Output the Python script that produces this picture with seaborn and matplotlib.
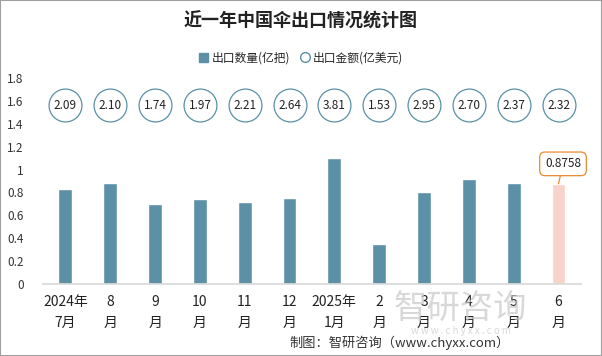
import matplotlib
matplotlib.use("Agg")
import matplotlib.pyplot as plt
import seaborn as sns
import pandas as pd
from matplotlib.patches import Patch, Rectangle
from matplotlib.lines import Line2D

months = ["2024年\n7月", "8\n月", "9\n月", "10\n月", "11\n月", "12\n月",
          "2025年\n1月", "2\n月", "3\n月", "4\n月", "5\n月", "6\n月"]
qty = [0.83, 0.88, 0.70, 0.74, 0.72, 0.75, 1.10, 0.35, 0.80, 0.92, 0.88, 0.8758]
amount = [2.09, 2.10, 1.74, 1.97, 2.21, 2.64, 3.81, 1.53, 2.95, 2.70, 2.37, 2.32]
yticks = [0, 0.2, 0.4, 0.6, 0.8, 1, 1.2, 1.4, 1.6, 1.8]

sns.set_theme(style="white")
plt.rcParams['font.family'] = ['Noto Sans CJK SC', 'DejaVu Sans']

BAR = "#5b90a7"
HILITE = "#f8d3ca"
ORANGE = "#ea8a2e"

df = pd.DataFrame({"month": months, "qty": qty})
colors = [BAR] * (len(months) - 1) + [HILITE]

fig = plt.figure(figsize=(6.02, 3.56), dpi=100)
ax = fig.add_axes([0.0714, 0.202, 0.8936, 0.579])

sns.barplot(data=df, x="month", y="qty", hue="month", palette=colors,
            width=0.31, legend=False, ax=ax, saturation=1)

# 出口金额 circles
ypos = [1.56] * len(months)
ax.scatter(range(len(months)), ypos, s=560, facecolor="white",
           edgecolor="#5b90a7", linewidth=0.9, zorder=3, clip_on=False)
for i, v in enumerate(amount):
    ax.text(i, ypos[i], f"{v:.2f}", ha="center", va="center",
            fontsize=8.5, color="#222222", zorder=4)

# callout for last bar
ax.annotate(f"{qty[-1]:.4f}", xy=(11, qty[-1]), xytext=(11.1, 1.05),
            ha="center", va="center", fontsize=8.5, color="#222222",
            bbox=dict(boxstyle="round,pad=0.45", fc="white", ec=ORANGE, lw=0.9),
            arrowprops=dict(arrowstyle="-", color=ORANGE, lw=0.9,
                            shrinkA=0, shrinkB=0))

ax.set_xlim(-0.5, len(months) - 0.5)
ax.set_ylim(0, 1.8)
ax.set_yticks(yticks)
ax.set_yticklabels([f"{t:g}" for t in yticks], fontsize=8.5, color="#333333")
ax.set_xticks(range(len(months)))
ax.set_xticklabels(months, fontsize=10, color="#222222", linespacing=1.6)
ax.tick_params(axis="both", length=0, pad=8)
ax.tick_params(axis="y", pad=14)
ax.set_xlabel("")
ax.set_ylabel("")
for s in ["top", "right", "left"]:
    ax.spines[s].set_visible(False)
ax.spines["bottom"].set_color("#d9d9d9")

fig.text(0.5, 0.94, "近一年中国伞出口情况统计图", ha="center", va="center",
         fontsize=13, fontweight="bold", color="#222222")

handles = [Patch(facecolor=BAR, edgecolor=BAR),
           Line2D([], [], marker="o", linestyle="", markerfacecolor="white",
                  markeredgecolor=BAR, markersize=7)]
fig.legend(handles, ["出口数量(亿把)", "出口金额(亿美元)"], loc="center",
           bbox_to_anchor=(0.5, 0.837), ncol=2, frameon=False, fontsize=8.5,
           handlelength=0.8, handletextpad=0.3, columnspacing=0.8)

# watermark
fig.text(0.765, 0.135, "智研咨询", fontsize=24, color="#c8c8c8", alpha=0.7,
         ha="center", va="center")
fig.text(0.765, 0.07, "w w w . c h y x x . c o m", fontsize=7, color="#c8c8c8",
         alpha=0.7, ha="center", va="center")
fig.text(0.847, 0.037, "制图：智研咨询（www.chyxx.com）", fontsize=9.5,
         color="#333333", ha="right", va="center")

fig.patches.append(Rectangle((0, 0), 1, 1, transform=fig.transFigure,
                             fill=False, edgecolor="#a0a0a0", lw=1.5))

fig.savefig("out.png", dpi=100)
